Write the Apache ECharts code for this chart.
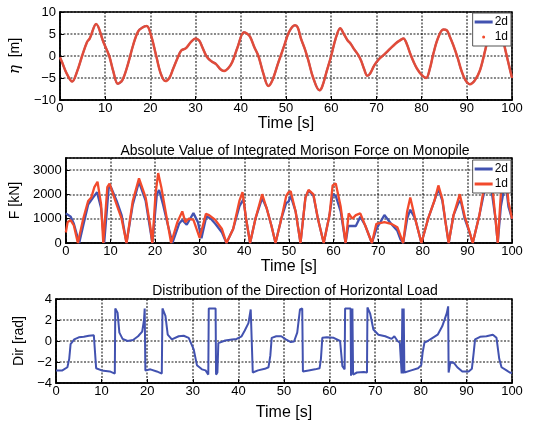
<!DOCTYPE html>
<html><head><meta charset="utf-8">
<script src="https://cdn.jsdelivr.net/npm/echarts@6/dist/echarts.min.js"></script>
<style>html,body{margin:0;padding:0;background:#fff}#c{width:533px;height:423px}</style>
</head><body><div id="c"></div>
<script>
// ---- Panel 1: surface elevation eta [m] ----
const etaTime = [0,0.5,1.5,2.7,3.8,4.9,6.0,6.6,8.0,9.6,10.9,11.8,12.8,13.8,15.0,16.2,17.3,18.3,19.2,20.2,21.3,22.3,23.3,24.2,25.0,26.0,26.8,27.9,29.0,30.0,30.8,31.5,32.5,33.5,34.5,35.5,36.3,37.2,38.1,39.3,40.7,41.5,42.1,43.0,43.9,45.0,46.1,47.0,48.3,49.5,50.7,52.0,52.6,53.3,54.2,55.0,56.0,57.4,58.0,59.0,60.0,61.0,62.0,62.8,63.6,64.3,65.1,66.0,66.6,67.3,68.0,68.6,69.5,70.5,71.7,73.0,74.2,75.3,76.0,76.7,77.5,78.3,79.0,80.0,81.0,81.8,82.6,83.6,84.8,85.6,86.2,87.0,88.0,88.8,89.7,90.7,91.8,92.9,94.0,95.0,96.3,97.7,98.5,99.3,100];
const eta2d = [-0.3,-1.5,-4.0,-5.8,-3.5,0,3.2,4.0,7.3,3.2,0,-3.5,-6.3,-5.5,-2.0,2.5,5.6,6.5,6.8,4.5,0,-4.0,-5.7,-5.0,-3.0,-0.5,1.2,1.8,3.2,4.0,3.5,2.0,-0.2,-1.2,-1.8,-3.0,-3.4,-2.8,-1.4,2.0,5.4,5.0,4.3,2.0,0,-4.0,-6.8,-5.5,-1.5,2.0,5.5,7.0,6.5,4.0,1.5,-1.2,-4.9,-7.8,-7.0,-3.5,0,4.0,6.3,5.0,3.6,2.8,1.5,0.2,-1.0,-3.0,-4.5,-4.0,-2.2,-0.8,0.3,1.6,2.8,3.6,4.0,2.8,0.5,-1.5,-2.9,-4.3,-5.0,-3.0,0.5,4.0,6.0,5.8,4.5,2.5,-0.5,-3.3,-5.5,-6.4,-5.5,-3.3,1.0,5.0,7.2,5.0,1.5,-2.0,-5.0];
const eta1d = [-0.3,-1.5,-4.0,-5.8,-3.5,0,3.2,4.0,7.3,3.2,0,-3.5,-6.3,-5.5,-2.0,2.5,5.6,6.5,6.8,4.5,0,-4.0,-5.7,-5.0,-3.0,-0.5,1.2,1.8,3.2,4.0,3.5,2.0,-0.2,-1.2,-1.8,-3.0,-3.4,-2.8,-1.4,2.0,5.4,5.0,4.3,2.0,0,-4.0,-6.8,-5.5,-1.5,2.0,5.5,7.0,6.5,4.0,1.5,-1.2,-4.9,-7.8,-7.0,-3.5,0,4.0,6.3,5.0,3.6,2.8,1.5,0.2,-1.0,-3.0,-4.5,-4.0,-2.2,-0.8,0.3,1.6,2.8,3.6,4.0,2.8,0.5,-1.5,-2.9,-4.3,-5.0,-3.0,0.5,4.0,6.0,5.8,4.5,2.5,-0.5,-3.3,-5.5,-6.4,-5.5,-3.3,1.0,5.0,7.2,5.0,1.5,-2.0,-5.0];

// ---- Panel 2: |Morison force| [kN] ----
const fTime2d = [0,1.1,1.8,3.0,3.9,5.0,6.1,7.0,7.9,8.6,9.6,10.0,11.4,12.5,13.6,15.0,16.4,17.9,18.9,19.4,20.4,20.9,21.8,22.9,23.9,25.4,26.1,27.1,28.6,29.6,30.4,31.5,32.5,33.5,35.0,36.0,37.5,38.9,39.8,40.4,41.3,42.5,44.0,45.0,46.1,47.0,48.3,49.4,49.9,50.4,51.5,52.6,53.7,54.4,55.5,56.5,57.8,59.1,59.8,60.5,61.6,62.7,63.3,65.0,66.0,67.1,68.6,69.6,71.4,72.9,74.3,75.0,75.6,76.5,77.2,78.3,79.7,81.2,82.6,83.5,84.4,85.1,85.8,86.9,88.0,88.5,89.4,90.5,91.2,92.7,94.1,95.2,96.3,96.8,97.5,98.1,98.6,99.2,100];
const f2d = [1220,1080,790,0,720,1580,1870,2090,1440,0,2250,2350,1730,1150,0,1580,2520,1730,575,0,2010,2180,1580,720,0,800,950,750,1230,860,200,1100,1000,790,430,0,575,1510,1800,1000,0,1000,1850,1440,700,0,1000,1650,1700,1940,1300,0,1870,2160,1950,1000,0,1150,2010,1940,1300,0,700,700,1080,720,0,575,1150,790,500,150,0,1000,1370,1000,0,1000,1730,2230,1730,860,0,1150,1650,1750,1000,430,0,1150,2400,2450,1000,0,1500,2100,2450,1500,1000];
const fTime1d = [0,0.4,1.1,1.8,2.7,3.9,5.0,5.7,6.4,7.1,7.9,8.4,9.3,9.8,11.1,12.5,13.6,15.0,16.4,17.9,18.9,19.4,20.1,20.7,21.4,22.5,23.6,25.0,26.1,26.8,27.5,28.6,30.0,31.4,32.1,33.5,35.0,36.0,37.5,38.9,39.6,40.4,41.3,42.5,44.0,45.0,46.1,47.0,48.3,49.4,49.9,50.4,51.5,52.6,53.7,54.4,55.5,56.5,57.8,59.1,59.8,60.5,61.6,62.7,63.4,64.2,65.0,66.0,67.1,68.6,69.6,71.4,72.9,74.3,75.0,75.6,76.5,77.2,78.3,79.7,81.2,82.6,83.5,84.4,85.1,85.8,86.9,88.3,89.4,90.5,91.2,92.7,94.1,95.0,95.6,96.3,96.8,97.5,98.1,98.6,99.2,100];
const f1d = [430,860,935,720,0,1000,1730,1870,2300,2520,1600,0,2300,2450,1730,1000,0,1730,2660,1870,720,0,2000,2880,2300,1150,0,860,1300,860,1000,950,215,1200,1150,950,575,0,575,1730,2090,1000,0,1000,2010,1440,700,0,1000,1940,2090,2130,1300,0,1870,2190,2000,1000,0,1150,2370,2450,1500,0,1220,1000,1150,1220,720,0,790,860,790,650,300,0,1300,1870,1000,0,1000,1730,2370,1800,860,0,1150,2010,1100,450,0,1150,2730,2950,2300,1000,0,2010,2730,2880,1700,1000];

// ---- Panel 3: direction of horizontal load [rad] ----
const dirTime = [0,1.4,2.5,2.9,3.2,4.0,5.0,6.1,7.2,8.3,8.6,8.8,10.0,11.8,12.9,13.0,13.5,13.9,14.6,15.7,16.9,18.0,18.9,19.3,19.45,19.6,20.7,22.1,23.2,23.35,24.0,24.5,25.4,26.9,28.0,29.1,30.2,30.9,32.0,32.8,33.4,33.5,35.0,35.1,35.4,35.6,36.0,37.1,38.6,39.6,40.7,41.4,42.2,42.7,43.0,43.15,44.3,45.8,46.6,47.0,47.3,48.3,49.4,50.4,51.5,52.2,52.9,53.5,54.0,54.15,55.4,56.8,57.8,58.1,58.4,59.4,60.9,62.3,62.8,63.3,63.4,64.6,64.7,64.9,65.0,65.15,66.0,67.5,68.2,68.3,68.9,69.6,70.7,72.2,73.6,74.2,74.9,75.4,75.8,75.95,76.1,76.25,76.4,77.9,79.4,80.1,80.4,80.8,81.5,82.6,83.7,84.7,85.7,86.0,86.1,86.5,87.3,88.0,89.1,90.5,91.2,91.6,91.9,93.0,94.4,95.8,96.6,97.2,97.7,98.8,99.5,100];
const dir2d = [-2.8,-2.8,-2.5,-1.7,-0.3,0.15,0.35,0.4,0.5,0.55,0.55,-2.6,-2.8,-2.9,-3.1,3.1,2.7,0.8,0.2,0,0.1,0.45,0.9,2.0,3.1,-2.8,-2.7,-2.9,-3.1,3.1,2.4,0.6,0.15,0.45,0.5,0.3,-0.8,-2.3,-2.7,-2.8,-3.2,3.1,3.1,-3.2,-3.0,-0.2,-0.1,0.05,0.15,0.2,0.45,1.0,1.7,3.0,3.1,-3.0,-2.8,-2.65,-2.5,-1.4,0.3,0.45,0.45,0.15,-0.1,-0.05,0.8,3.0,3.1,-2.9,-2.8,-2.7,-2.6,-1.7,0.3,0.35,0.3,0.0,-2.4,-2.7,3.1,3.1,-3.3,-3.2,3.1,-3.2,-3.0,-2.95,-3.0,3.2,2.6,1.1,0.6,0.45,0.2,0.45,0,-0.15,-3.1,3.1,-3.1,3.1,-3.0,-2.8,-2.6,-2.3,-1.1,-0.15,0,0.3,0.6,1.4,2.65,3.3,-3.0,-2.0,-2.1,-2.5,-2.9,-2.9,-2.65,-1.1,0.15,0.4,0.45,0.6,0.3,-1.7,-2.5,-2.8,-3.0,-3.05];

const FONT = '"Liberation Sans", Arial, Helvetica, sans-serif';
const BLUE = '#4252b0';
const RED = '#f24a2c';

const zip = (t, v) => t.map((x, i) => [x, v[i]]);
const minus = v => String(v).replace('-', '\u2212');

const grids = [
  {left:56, right:21, top:12, height:88},
  {left:56, right:21, top:158, height:85},
  {left:56, right:21, top:299, height:84}
].map(g => Object.assign(g, {show:true, borderColor:'#000', borderWidth:1.5, backgroundColor:'#fff'}));

const splitStyle = {show:true, lineStyle:{color:'rgba(0,0,0,0.62)', type:[2,1.5], width:1.6}};
const xNameGaps = [13, 6, 22];
const xAxes = [0,1,2].map(i => ({
  gridIndex:i, type:'value', min:0, max:100, interval:10,
  axisLine:{show:true, onZero:false, lineStyle:{color:'#000', width:1.5}},
  axisTick:{show:true, inside:true, length:4, lineStyle:{color:'#000'}},
  axisLabel:{color:'#000', fontSize:13, fontFamily:FONT, margin:2},
  splitLine:splitStyle,
  name:'Time [s]', nameLocation:'middle', nameGap:xNameGaps[i],
  nameTextStyle:{color:'#000', fontSize:16, fontFamily:FONT}
}));
const yBase = {
  type:'value',
  axisLine:{show:true, onZero:false, lineStyle:{color:'#000', width:1.5}},
  axisTick:{show:true, inside:true, length:4, lineStyle:{color:'#000'}},
  splitLine:splitStyle,
  nameLocation:'middle',
  nameTextStyle:{color:'#000', fontSize:14, fontFamily:FONT}
};
const yAxes = [
  Object.assign({}, yBase, {gridIndex:0, min:-10, max:10, interval:5, name:'{i|\u03b7}  [m]', nameGap:30,
    nameTextStyle:{color:'#000', fontSize:14, fontFamily:FONT, rich:{i:{fontStyle:'italic', fontSize:15, fontFamily:'"DejaVu Serif", serif'}}},
    axisLabel:{color:'#000', fontSize:13, fontFamily:FONT, margin:4, formatter:minus}}),
  Object.assign({}, yBase, {gridIndex:1, min:0, max:3500, interval:1000, name:'F [kN]', nameGap:36,
    axisLabel:{color:'#000', fontSize:13, fontFamily:FONT, margin:4, showMaxLabel:false, formatter:v => v===3500 ? '' : minus(v)}}),
  Object.assign({}, yBase, {gridIndex:2, min:-4, max:4, interval:2, name:'Dir [rad]', nameGap:28,
    axisLabel:{color:'#000', fontSize:13, fontFamily:FONT, margin:4, formatter:minus}})
];

const legendBase = {
  orient:'vertical', right:22, itemWidth:18, itemHeight:3, itemGap:3,
  padding:[3,3,3,2], backgroundColor:'#fff', borderColor:'#555', borderWidth:1,
  textStyle:{color:'#000', fontSize:12, fontFamily:FONT, padding:[0,0,0,-3]},
  selectedMode:false
};

const option = {
  animation:false,
  backgroundColor:'#fff',
  title:[
    {text:'Absolute Value of Integrated Morison Force on Monopile', left:290, top:139, textAlign:'center',
     textStyle:{color:'#000', fontSize:14, fontWeight:'normal', fontFamily:FONT}},
    {text:'Distribution of the Direction of Horizontal Load', left:290, top:279, textAlign:'center',
     textStyle:{color:'#000', fontSize:14, fontWeight:'normal', fontFamily:FONT}}
  ],
  legend:[
    Object.assign({}, legendBase, {top:13, data:[
      {name:'2d', icon:'rect', itemStyle:{color:BLUE}},
      {name:'1d', icon:'circle', itemStyle:{color:RED}}]}),
    Object.assign({}, legendBase, {top:160, data:[
      {name:'2d', icon:'rect', itemStyle:{color:BLUE}},
      {name:'1d', icon:'rect', itemStyle:{color:RED}}]})
  ],
  grid:grids,
  xAxis:xAxes,
  yAxis:yAxes,
  series:[
    {name:'2d', type:'line', xAxisIndex:0, yAxisIndex:0, data:zip(etaTime, eta2d), showSymbol:false, smooth:0.35,
     lineStyle:{color:BLUE, width:2}, itemStyle:{color:BLUE}},
    {name:'1d', type:'line', xAxisIndex:0, yAxisIndex:0, data:zip(etaTime, eta1d), showSymbol:false, smooth:0.35,
     lineStyle:{color:RED, width:2.5, opacity:0.9}, itemStyle:{color:RED}},
    {name:'2d', type:'line', xAxisIndex:1, yAxisIndex:1, data:zip(fTime2d, f2d), showSymbol:false,
     lineStyle:{color:BLUE, width:2.3}, itemStyle:{color:BLUE}},
    {name:'1d', type:'line', xAxisIndex:1, yAxisIndex:1, data:zip(fTime1d, f1d), showSymbol:false,
     lineStyle:{color:RED, width:2.3}, itemStyle:{color:RED}},
    {name:'Dir', type:'line', xAxisIndex:2, yAxisIndex:2, data:zip(dirTime, dir2d), showSymbol:false,
     lineStyle:{color:BLUE, width:2}, itemStyle:{color:BLUE}}
  ]
};
const chart = echarts.init(document.getElementById('c'), null, {renderer:'canvas'});
chart.setOption(option);
</script>
</body></html>
